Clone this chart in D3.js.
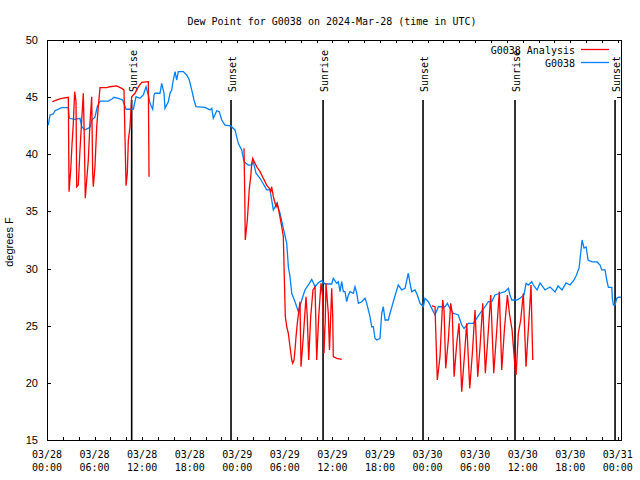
<!DOCTYPE html>
<html><head><meta charset="utf-8">
<script src="https://cdn.jsdelivr.net/npm/d3@7"></script>
<style>body{margin:0;background:#fff}</style>
</head><body>
<svg id="c" width="640" height="480"></svg>
<script>
const title = "Dew Point for G0038 on 2024-Mar-28 (time in UTC)";
const yLabel = "degrees F";
const yTicks = [15,20,25,30,35,40,45,50];
const seriesNames = ["G0038 Analysis","G0038"];
const seriesColors = ["#ff0000","#0080ff"];
const startTime = Date.UTC(2024,2,28,0,0);
const spanHours = 72.4;

const obsHours = [0.16,0.38,0.79,1.01,1.85,2.69,2.81,3.53,4.16,4.38,
4.79,5.42,5.64,6.05,6.34,6.69,7.73,8.16,8.45,8.99,
9.55,9.97,10.89,11.23,11.73,12.15,12.49,12.78,12.99,13.33,
13.5,13.62,14.25,14.47,14.76,14.88,15.3,15.52,15.73,15.93,
16.15,16.36,16.56,17.19,17.62,17.95,18.25,18.54,18.79,19.93,
20.56,20.78,20.98,21.41,21.73,22.04,22.45,23.17,23.71,24.13,
24.56,24.85,25.39,25.82,26.02,26.36,26.87,27.71,28.13,28.55,
28.98,29.39,29.81,30.24,30.44,30.65,30.87,31.28,31.7,32.13,
32.54,33.09,33.39,33.81,34.22,34.65,35.07,35.91,36.11,36.54,
36.75,36.96,37.17,37.38,37.59,37.8,38.01,38.22,38.64,38.85,
39.07,39.27,39.7,40.11,40.33,40.53,40.74,40.96,41.16,41.37,
41.59,42.0,42.22,42.42,42.64,43.05,43.27,43.68,44.11,44.31,
44.74,45.16,45.57,45.79,46.0,46.42,46.71,47.05,47.47,47.68,
48.1,48.53,48.94,49.36,50.2,50.49,50.83,51.25,51.88,52.31,
52.6,53.14,53.77,54.2,54.62,55.25,55.67,56.1,56.51,57.14,
57.77,58.19,58.4,58.62,59.25,59.66,60.17,60.42,60.71,61.14,
61.34,61.81,62.19,62.82,63.45,64.08,64.46,64.96,65.47,65.97,
66.48,66.73,67.11,67.36,67.49,67.74,68.0,68.25,68.75,69.38,
69.76,69.97,70.39,70.6,70.81,71.24,71.31,71.44,71.65,71.86,
72.15,72.4];
const obsValues = [42.56,43.44,43.53,43.81,44.08,44.08,43.15,43.06,43.15,42.41,
42.13,42.36,43.0,43.24,44.16,44.66,44.66,44.81,44.99,44.9,
44.75,43.94,43.94,45.04,44.9,45.19,45.91,45.19,44.46,43.94,
45.19,45.34,45.34,46.21,45.34,44.02,44.6,45.34,45.63,46.5,
47.23,46.5,47.23,47.23,46.94,46.5,45.63,44.75,44.16,44.11,
43.88,44.02,43.15,43.81,43.73,43.0,42.56,42.48,42.13,40.96,
40.38,39.35,39.06,39.06,39.35,38.34,37.9,36.88,36.88,35.13,
35.71,34.84,33.52,32.21,30.16,29.29,27.84,27.1,26.23,27.25,
28.13,28.71,29.06,28.41,28.76,28.94,28.65,28.65,29.15,28.71,
28.85,27.98,28.85,27.98,27.98,27.1,27.69,27.98,27.84,28.41,
27.84,26.96,27.1,27.4,26.96,26.38,25.79,24.91,24.91,23.9,
23.75,23.9,26.09,26.66,25.5,25.5,26.09,27.1,28.13,28.56,
28.13,28.27,29.59,28.71,27.98,28.13,27.69,26.96,26.66,27.4,
27.1,26.52,25.94,26.66,26.66,26.96,26.52,26.09,25.94,25.06,
24.77,25.21,25.21,25.65,26.09,26.66,27.1,27.1,27.69,27.84,
27.98,28.27,27.69,27.25,27.25,27.4,27.69,28.71,28.56,28.85,
28.56,28.13,28.74,28.13,28.39,27.95,28.48,28.13,28.74,28.56,
29.0,29.35,30.05,31.63,32.5,31.8,31.89,30.75,30.58,30.58,
30.31,29.88,29.88,29.0,28.36,28.36,27.4,26.81,26.81,27.4,
27.49,27.51];

const anaHours = [0.67,1.01,1.43,1.85,2.69,2.78,2.99,3.15,3.32,3.49,3.66,3.75,3.95,4.16,4.38,4.58,4.71,4.83,5.01,5.21,5.42,5.64,5.76,5.84,6.05,6.27,6.47,6.69,7.53,7.95,8.79,9.42,9.71,9.84,9.97,10.13,10.26,10.47,10.68,11.1,11.52,11.95,12.78,12.87,
null,
24.85,24.94,25.01,25.1,25.27,25.52,25.7,25.82,25.95,26.15,26.45,26.87,27.28,27.71,28.04,28.22,28.34,28.55,28.89,29.05,29.3,29.61,29.81,29.93,30.06,30.24,30.44,30.65,30.87,30.99,31.16,31.28,31.41,31.57,31.75,31.91,32.04,32.33,32.67,32.83,33.01,33.26,33.55,33.81,34.02,34.27,34.56,34.78,34.94,35.11,35.19,35.48,35.63,35.91,36.04,36.11,36.54,37.17,
null,
48.56,48.94,49.23,49.57,49.91,50.08,50.29,50.62,50.92,51.12,51.35,51.68,51.97,52.31,52.64,52.94,53.32,53.65,53.99,54.33,54.62,54.96,55.29,55.59,55.97,56.35,56.73,57.05,57.36,57.69,58.07,58.32,58.66,59.04,59.17,59.45,59.75,60.08,60.42,60.76,61.05,61.27];
const anaValues = [44.6,44.69,44.81,44.9,44.99,36.73,38.63,40.81,42.71,45.48,44.6,37.16,37.31,40.38,43.0,45.34,41.25,36.15,37.75,39.5,42.71,45.04,38.34,37.16,38.91,42.41,44.16,45.83,45.83,45.91,45.98,45.77,45.63,41.4,37.25,38.34,41.25,42.41,45.04,45.34,45.91,46.3,46.35,38.04,
null,
40.52,36.59,32.5,33.11,34.25,37.02,38.04,39.21,39.65,39.35,38.91,38.48,37.9,37.31,37.02,36.73,37.16,36.29,35.41,35.71,34.84,33.66,32.79,29.29,25.79,24.91,24.34,23.16,22.0,21.71,22.0,22.88,24.04,25.21,26.23,27.1,21.41,24.04,27.54,25.79,22.0,25.79,28.13,28.41,22.0,25.79,28.71,27.54,22.59,25.79,28.71,26.09,22.88,28.27,25.79,22.29,22.15,22.06,
null,
26.73,26.66,20.25,22.29,27.25,26.38,21.27,23.75,26.96,26.09,20.54,23.46,25.21,19.23,22.29,25.21,19.52,22.59,26.38,20.54,23.16,26.96,20.84,23.75,27.69,20.84,24.63,27.98,21.13,24.63,27.69,26.09,24.63,21.27,20.69,24.34,25.5,27.84,21.41,25.21,28.56,22.0];

const sunHours = [10.68, 23.21, 34.82, 47.43, 59.03, 71.65];
const sunLabels = ["Sunrise","Sunset","Sunrise","Sunset","Sunrise","Sunset"];

const mono = "'DejaVu Sans Mono', monospace";
const sans = "'Liberation Sans', Arial, sans-serif";
const L = 47, R = 621, T = 40, B = 440;
const toDate = h => new Date(startTime + h * 3600e3);

const svg = d3.select("#c");
const x = d3.scaleUtc().domain([toDate(0), toDate(spanHours)]).range([L, R]);
const y = d3.scaleLinear().domain([15, 50]).range([B, T]);

// title
svg.append("text").attr("x", 332).attr("y", 25).attr("text-anchor", "middle")
  .style("font-family", mono).style("font-size", "10px").text(title);

// axes (ticks inward)
const hourTicks = d3.utcHour.every(2).range(toDate(0), toDate(spanHours));
const gb = svg.append("g").attr("transform", `translate(0,${B})`)
  .call(d3.axisBottom(x).tickValues(hourTicks).tickSize(-3).tickFormat(""));
const gt = svg.append("g").attr("transform", `translate(0,${T})`)
  .call(d3.axisTop(x).tickValues(hourTicks).tickSize(-3).tickFormat(""));
const gl = svg.append("g").attr("transform", `translate(${L},0)`)
  .call(d3.axisLeft(y).tickValues(yTicks).tickSize(-4).tickPadding(9));
const gr = svg.append("g").attr("transform", `translate(${R},0)`)
  .call(d3.axisRight(y).tickValues(yTicks).tickSize(-4).tickFormat(""));
[gb, gt, gl, gr].forEach(g => {
  g.select(".domain").remove();
  g.selectAll("line").attr("stroke", "#000").attr("shape-rendering", "crispEdges");
});
gl.selectAll("text").style("font-family", sans).style("font-size", "11px").attr("fill", "#000");

// x labels every 6 hours
const labTicks = d3.utcHour.every(6).range(toDate(0), toDate(spanHours));
const fD = d3.utcFormat("%m/%d"), fT = d3.utcFormat("%H:%M");
const xl = svg.append("g").style("font-family", mono).style("font-size", "10px");
labTicks.forEach(t => {
  const tx = xl.append("text").attr("text-anchor", "middle");
  tx.append("tspan").attr("x", x(t)).attr("y", 458).text(fD(t));
  tx.append("tspan").attr("x", x(t)).attr("y", 471).text(fT(t));
});

// y label
svg.append("text").attr("transform", "translate(13,242) rotate(-90)")
  .attr("text-anchor", "middle").style("font-family", sans).style("font-size", "11px").text(yLabel);

// frame
svg.append("rect").attr("x", L).attr("y", T).attr("width", R - L).attr("height", B - T)
  .attr("fill", "none").attr("stroke", "#000").attr("shape-rendering", "crispEdges");

// sunrise/sunset
sunHours.forEach((h, i) => {
  const sx = x(toDate(h));
  svg.append("line").attr("x1", sx).attr("x2", sx).attr("y1", 100).attr("y2", B)
    .attr("stroke", "#000").attr("stroke-width", 1.6);
  svg.append("text").attr("transform", `translate(${sx + 5},92) rotate(-90)`)
    .attr("text-anchor", "start").style("font-family", mono).style("font-size", "10px")
    .text(sunLabels[i]);
});

// series
const line = d3.line().defined(d => d[0] != null && d[1] != null)
  .x(d => x(toDate(d[0]))).y(d => y(d[1]));
svg.append("path").datum(d3.zip(obsHours, obsValues))
  .attr("d", line).attr("fill", "none").attr("stroke", seriesColors[1]).attr("stroke-width", 1.3);
svg.append("path").datum(d3.zip(anaHours, anaValues))
  .attr("d", line).attr("fill", "none").attr("stroke", seriesColors[0]).attr("stroke-width", 1.3);

// legend
seriesNames.forEach((n, i) => {
  const ly = 49.5 + i * 13;
  svg.append("text").attr("x", 575).attr("y", ly + 4).attr("text-anchor", "end")
    .style("font-family", mono).style("font-size", "10px").text(n);
  svg.append("line").attr("x1", 581).attr("x2", 609).attr("y1", ly).attr("y2", ly)
    .attr("stroke", seriesColors[i]).attr("stroke-width", 1.3);
});
</script>
</body></html>
